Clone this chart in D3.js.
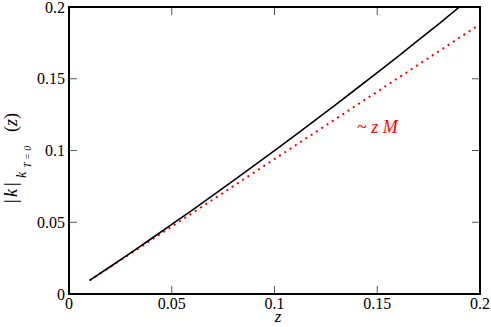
<!DOCTYPE html>
<html>
<head>
<meta charset="utf-8">
<script src="https://cdn.jsdelivr.net/npm/d3@7"></script>
<style>
  body { margin: 0; background: #fff; }
  svg { display: block; }
</style>
</head>
<body>
<svg width="491" height="327"></svg>
<script>
// full curve |k| vs z
const zFull = [0.01, 0.02, 0.03, 0.04, 0.05, 0.06, 0.07, 0.08, 0.09, 0.10,
               0.11, 0.12, 0.13, 0.14, 0.15, 0.16, 0.17, 0.18, 0.19, 0.195];
const kFull = [0.0095, 0.0190, 0.0287, 0.0385, 0.0485, 0.0585, 0.0687, 0.0790, 0.0894, 0.0999,
               0.1105, 0.1213, 0.1322, 0.1432, 0.1543, 0.1655, 0.1769, 0.1883, 0.2000, 0.2057];
// linear approximation ~ z M
const zApprox = [0.01, 0.05, 0.10, 0.15, 0.20];
const kApprox = [0.0094, 0.0470, 0.0940, 0.1410, 0.1880];

const xTicks = [0, 0.05, 0.1, 0.15, 0.2];
const yTicks = [0, 0.05, 0.1, 0.15, 0.2];

const serif = "'Liberation Serif', 'Times New Roman', Times, 'DejaVu Serif', 'Noto Serif', serif";

const svg = d3.select("svg");
const margin = {left: 69, right: 11, top: 7, bottom: 33};
const width = +svg.attr("width");
const height = +svg.attr("height");
const x0 = margin.left, x1 = width - margin.right;
const y0 = height - margin.bottom, y1 = margin.top;

const x = d3.scaleLinear().domain([0, 0.2]).range([x0, x1]);
const y = d3.scaleLinear().domain([0, 0.2]).range([y0, y1]);

svg.append("defs").append("clipPath").attr("id", "plotclip")
  .append("rect")
  .attr("x", x0).attr("y", y1)
  .attr("width", x1 - x0).attr("height", y0 - y1);

// ticks (inward, on all four sides)
const tickLen = 8;
const ticks = svg.append("g").attr("stroke", "#555").attr("stroke-width", 1);
xTicks.forEach(t => {
  ticks.append("line").attr("x1", x(t)).attr("x2", x(t)).attr("y1", y0).attr("y2", y0 - tickLen);
  ticks.append("line").attr("x1", x(t)).attr("x2", x(t)).attr("y1", y1).attr("y2", y1 + tickLen);
});
yTicks.forEach(t => {
  ticks.append("line").attr("x1", x0).attr("x2", x0 + tickLen).attr("y1", y(t)).attr("y2", y(t));
  ticks.append("line").attr("x1", x1).attr("x2", x1 - tickLen).attr("y1", y(t)).attr("y2", y(t));
});

// tick labels
svg.append("g").selectAll("text")
  .data(xTicks)
  .enter().append("text")
  .style("font-family", serif)
  .attr("x", d => x(d))
  .attr("y", y0 + 15)
  .attr("text-anchor", "middle")
  .attr("font-size", 16)
  .text(d => d3.format("")(d));

svg.append("g").selectAll("text")
  .data(yTicks)
  .enter().append("text")
  .style("font-family", serif)
  .attr("x", x0 - 4)
  .attr("y", d => y(d) + 5.5)
  .attr("text-anchor", "end")
  .attr("font-size", 16)
  .text(d => d3.format("")(d));

// curves
const line = d3.line().x(d => x(d[0])).y(d => y(d[1]));

svg.append("path")
  .datum(d3.zip(zApprox, kApprox))
  .attr("d", line)
  .attr("fill", "none")
  .attr("stroke", "#ff0000")
  .attr("stroke-width", 2)
  .attr("stroke-dasharray", "2,4.3");

svg.append("path")
  .datum(d3.zip(zFull, kFull))
  .attr("d", line)
  .attr("clip-path", "url(#plotclip)")
  .attr("fill", "none")
  .attr("stroke", "#000")
  .attr("stroke-width", 1.6);

// frame
svg.append("rect")
  .attr("x", x0).attr("y", y1)
  .attr("width", x1 - x0).attr("height", y0 - y1)
  .attr("fill", "none")
  .attr("stroke", "#000")
  .attr("stroke-width", 2);

// annotation
const ann = svg.append("text")
  .style("font-family", serif)
  .attr("x", 357).attr("y", 133)
  .attr("font-size", 18)
  .attr("fill", "#ff0000");
ann.append("tspan").text("~ ");
ann.append("tspan").attr("font-style", "italic").text("z M");

// x axis label
svg.append("text")
  .style("font-family", serif)
  .attr("x", 278).attr("y", 322)
  .attr("text-anchor", "middle")
  .attr("font-size", 17)
  .attr("font-style", "italic")
  .text("z");

// y axis label, rotated
const yl = svg.append("g").attr("transform", "translate(17,203) rotate(-90)")
  .append("text").style("font-family", serif).attr("font-size", 18);
yl.append("tspan").attr("x", 0).text("|");
yl.append("tspan").attr("x", 6).attr("font-style", "italic").text("k");
yl.append("tspan").attr("x", 17).text("|");
yl.append("tspan").attr("x", 25).attr("dy", 9).attr("font-size", 14).attr("font-style", "italic").text("k");
yl.append("tspan").attr("x", 35).attr("dy", 5).attr("font-size", 10).attr("font-style", "italic").text("T = 0");
yl.append("tspan").attr("x", 71).attr("dy", -14).text("(");
yl.append("tspan").attr("font-style", "italic").text("z");
yl.append("tspan").text(")");
</script>
</body>
</html>
